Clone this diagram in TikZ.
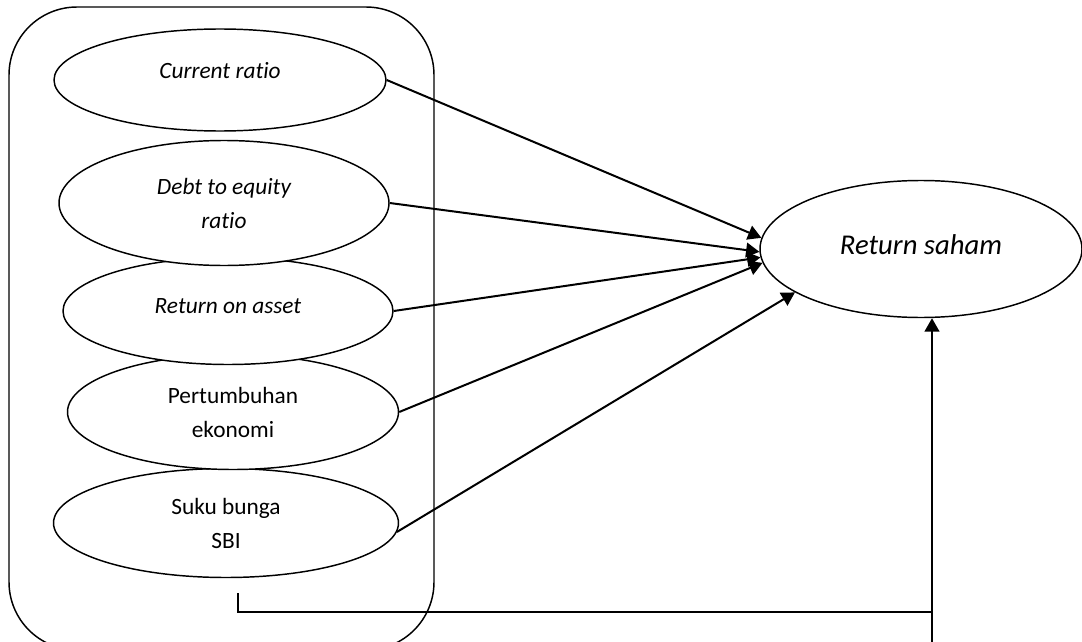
\documentclass[tikz,border=0pt]{standalone}
\usepackage{fontspec}
\setmainfont{Carlito}[Ligatures={NoCommon,NoContextual}]
\usetikzlibrary{arrows.meta,shapes.geometric}

\begin{document}
\begin{tikzpicture}[x=0.75pt, y=-0.75pt,
  factor/.style={ellipse, draw=black, line width=1.1pt, fill=white,
    inner sep=0pt, align=center, font=\fontsize{17.5pt}{25.5pt}\selectfont},
  target/.style={ellipse, draw=black, line width=1.1pt, fill=white,
    inner sep=0pt, align=center, font=\fontsize{21.5pt}{26pt}\selectfont\itshape,
    minimum width=241.5pt, minimum height=102.75pt},
  frame/.style={draw=black, line width=1.1pt, rounded corners=51pt},
  effect/.style={-{Triangle[length=10pt,width=11pt]}, line width=1.5pt, draw=black},
  bracket/.style={line width=1.5pt, draw=black}
]
\useasboundingbox (0,0) rectangle (1082,642);
\draw[frame] (9,7) rectangle (434,650);

\node[factor, minimum width=258.75pt, minimum height=81.75pt] (sbi) at (226,523) {Suku bunga\\SBI};
\node[factor, minimum width=248.25pt, minimum height=86.25pt] (pe) at (233,412) {Pertumbuhan\\ekonomi};
\node[factor, minimum width=247.5pt, minimum height=80.25pt] (roa) at (228,311) {\itshape\raisebox{3.75pt}[\height][\depth]{Return on asset}};
\node[factor, minimum width=247.5pt, minimum height=93.75pt] (der) at (224,203) {\itshape Debt to equity\\\itshape rat\kern0pt io};
\node[factor, minimum width=249pt, minimum height=76.5pt] (cr) at (220,80) {\itshape\raisebox{6.75pt}[\height][\depth]{Current rat\kern0pt io}};
\node[target] (saham) at (921,249) {\raisebox{3pt}[\height][\depth]{Return saham}};

\draw[effect] (cr.east) -- (saham.176);
\draw[effect] (der.east) -- (saham.181);
\draw[effect] (roa.east) -- (saham.183);
\draw[effect] (pe.east) -- (saham.185);
\draw[effect] (sbi.-3) -- (saham.199);

\coordinate (tick) at (238,593);
\coordinate (joint) at (932,612);
\coordinate (foot) at (932,645);
\draw[bracket] (tick) |- (joint);
\draw[effect] (foot) -- (foot |- saham.south);
\end{tikzpicture}
\end{document}
